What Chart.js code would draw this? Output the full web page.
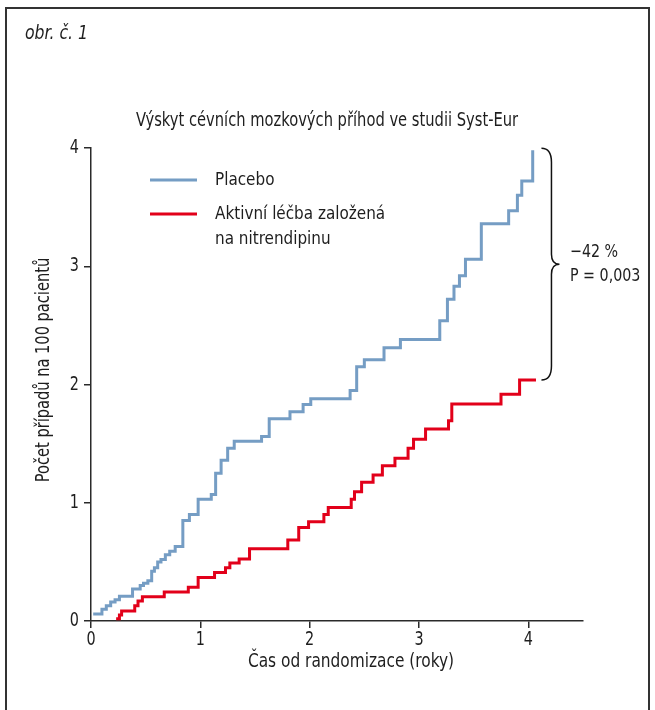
<!DOCTYPE html>
<html><head><meta charset="utf-8">
<script src="https://cdn.jsdelivr.net/npm/chart.js@4"></script>
<style>html,body{margin:0;padding:0;background:#fff}canvas{display:block}</style>
</head><body>
<canvas id="c" width="655" height="710"></canvas>
<script>
const FONT = "'Liberation Sans Narrow','DejaVu Sans Condensed',sans-serif";
const chartTitle = 'Výskyt cévních mozkových příhod ve studii Syst-Eur';
const figureLabel = 'obr. č. 1';
const xAxisTitle = 'Čas od randomizace (roky)';
const yAxisTitle = 'Počet případů na 100 pacientů';
const xTickValues = [0, 1, 2, 3, 4];
const yTickValues = [0, 1, 2, 3, 4];
const seriesNames = [['Placebo'], ['Aktivní léčba založená', 'na nitrendipinu']];
const seriesColors = ['#759dc4', '#e2001a'];
const annotationLines = ['−42 %', 'P = 0,003'];

const placeboTimes  = [0.02, 0.10, 0.14, 0.18, 0.22, 0.26, 0.38, 0.45, 0.48, 0.52, 0.555, 0.58, 0.61, 0.64, 0.68, 0.72, 0.77, 0.84, 0.90, 0.98, 1.10, 1.14, 1.19, 1.25, 1.31, 1.56, 1.63, 1.82, 1.94, 2.01, 2.37, 2.43, 2.50, 2.68, 2.83, 3.19, 3.26, 3.32, 3.37, 3.425, 3.57, 3.82, 3.90, 3.94, 4.04];
const placeboValues = [0.06, 0.10, 0.13, 0.16, 0.18, 0.21, 0.27, 0.30, 0.32, 0.34, 0.42, 0.45, 0.50, 0.52, 0.56, 0.59, 0.63, 0.85, 0.90, 1.03, 1.07, 1.25, 1.36, 1.46, 1.52, 1.56, 1.71, 1.77, 1.83, 1.88, 1.95, 2.15, 2.21, 2.31, 2.38, 2.54, 2.72, 2.83, 2.92, 3.06, 3.36, 3.47, 3.60, 3.72, 3.98];
const activeTimes   = [0.23, 0.26, 0.28, 0.40, 0.43, 0.47, 0.67, 0.89, 0.98, 1.13, 1.23, 1.27, 1.355, 1.45, 1.80, 1.90, 1.99, 2.13, 2.17, 2.38, 2.41, 2.475, 2.58, 2.665, 2.78, 2.90, 2.95, 3.06, 3.27, 3.30, 3.75, 3.92, 4.07];
const activeValues  = [0.02, 0.05, 0.085, 0.13, 0.17, 0.205, 0.245, 0.285, 0.367, 0.41, 0.45, 0.49, 0.525, 0.61, 0.685, 0.79, 0.84, 0.90, 0.96, 1.03, 1.094, 1.173, 1.235, 1.313, 1.376, 1.46, 1.537, 1.624, 1.694, 1.835, 1.917, 2.038, 2.038];

const toPoints = (xs, ys) => xs.map((x, i) => ({x, y: ys[i]}));
const AX = '#2a2a2a';
const TXT = '#1e1e1e';

function txt(ctx, s, x, y, o) {
  ctx.save();
  ctx.font = (o.italic ? 'italic ' : '') + o.size + 'px ' + FONT;
  ctx.fillStyle = TXT;
  ctx.textBaseline = 'middle';
  ctx.textAlign = o.align || 'left';
  ctx.translate(x, y);
  if (o.rot) ctx.rotate(o.rot);
  ctx.scale(o.sx || 1, 1);
  ctx.fillText(s, 0, 0);
  ctx.restore();
}

const decor = {
  id: 'decor',
  beforeDraw(chart) {
    const ctx = chart.ctx;
    ctx.save();
    ctx.fillStyle = '#fff';
    ctx.fillRect(0, 0, chart.width, chart.height);
    ctx.strokeStyle = '#333';
    ctx.lineWidth = 2;
    ctx.beginPath();
    ctx.moveTo(6, 710); ctx.lineTo(6, 8); ctx.lineTo(649, 8); ctx.lineTo(649, 710);
    ctx.stroke();
    ctx.restore();
    txt(ctx, figureLabel, 25, 34, { size: 19, italic: true, sx: 0.92 });
    txt(ctx, chartTitle, 327, 121, { size: 19, align: 'center', sx: 0.86 });
  },
  afterDraw(chart) {
    const ctx = chart.ctx;
    const xs = chart.scales.x, ys = chart.scales.y;
    // tick labels
    xTickValues.forEach(v => txt(ctx, String(v), xs.getPixelForValue(v), 640, { size: 20, align: 'center', sx: 0.8 }));
    yTickValues.forEach(v => txt(ctx, String(v), 79, ys.getPixelForValue(v), { size: 20, align: 'right', sx: 0.8 }));
    // axis titles
    txt(ctx, xAxisTitle, 351, 662, { size: 19, align: 'center', sx: 0.9 });
    txt(ctx, yAxisTitle, 44, 370, { size: 19, align: 'center', sx: 0.855, rot: -Math.PI / 2 });
    // legend
    const legY = [180, 214];
    chart.data.datasets.forEach((ds, i) => {
      ctx.save();
      ctx.strokeStyle = ds.borderColor;
      ctx.lineWidth = 3;
      ctx.beginPath();
      ctx.moveTo(150, legY[i]); ctx.lineTo(197, legY[i]);
      ctx.stroke();
      ctx.restore();
      seriesNames[i].forEach((t, k) => txt(ctx, t, 215, legY[i] + k * 25, { size: 18, sx: 0.94 }));
    });
    // brace between series ends
    const top = ys.getPixelForValue(placeboValues[placeboValues.length - 1]) - 2;
    const bot = ys.getPixelForValue(activeValues[activeValues.length - 1]);
    const mid = (top + bot) / 2;
    const x0 = xs.getPixelForValue(4.12);
    ctx.save();
    ctx.strokeStyle = '#111';
    ctx.lineWidth = 1.5;
    ctx.beginPath();
    ctx.moveTo(x0, top);
    ctx.quadraticCurveTo(x0 + 10, top, x0 + 10, top + 14);
    ctx.lineTo(x0 + 10, mid - 10);
    ctx.quadraticCurveTo(x0 + 10, mid, x0 + 18, mid);
    ctx.quadraticCurveTo(x0 + 10, mid, x0 + 10, mid + 10);
    ctx.lineTo(x0 + 10, bot - 14);
    ctx.quadraticCurveTo(x0 + 10, bot, x0, bot);
    ctx.stroke();
    ctx.restore();
    txt(ctx, annotationLines[0], 570, mid - 12, { size: 18, sx: 0.88 });
    txt(ctx, annotationLines[1], 570, mid + 12, { size: 18, sx: 0.88 });
  }
};

new Chart(document.getElementById('c'), {
  type: 'line',
  data: {
    datasets: [
      { label: seriesNames[0].join(' '), data: toPoints(placeboTimes, placeboValues), borderColor: seriesColors[0], borderWidth: 3, stepped: 'before', pointRadius: 0, fill: false },
      { label: seriesNames[1].join(' '), data: toPoints(activeTimes, activeValues), borderColor: seriesColors[1], borderWidth: 3, stepped: 'before', pointRadius: 0, fill: false }
    ]
  },
  options: {
    responsive: false,
    animation: false,
    events: [],
    layout: { padding: { top: 148, left: 0, right: 72, bottom: 29 } },
    plugins: {
      legend: { display: false },
      tooltip: { enabled: false },
      title: { display: false }
    },
    scales: {
      x: {
        type: 'linear', min: 0, max: 4.5,
        afterBuildTicks: s => { s.ticks = xTickValues.map(v => ({ value: v })); },
        afterFit: s => { s.height = 60; },
        ticks: { display: false },
        grid: { drawOnChartArea: false, drawTicks: true, tickLength: 7, color: AX, lineWidth: 1.5 },
        border: { display: true, color: AX, width: 1.5 }
      },
      y: {
        type: 'linear', min: 0, max: 4,
        afterBuildTicks: s => { s.ticks = yTickValues.map(v => ({ value: v })); },
        afterFit: s => { s.width = 91; },
        ticks: { display: false },
        grid: { drawOnChartArea: false, drawTicks: true, tickLength: 7, color: AX, lineWidth: 1.5 },
        border: { display: true, color: AX, width: 1.5 }
      }
    }
  },
  plugins: [decor]
});
</script>
</body></html>
